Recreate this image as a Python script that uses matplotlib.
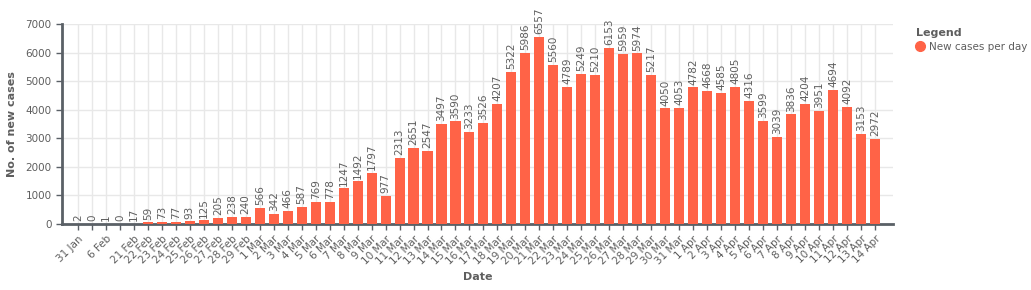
import matplotlib
matplotlib.use("Agg")
import matplotlib.pyplot as plt
from matplotlib.lines import Line2D

dates = ["31 Jan", "", "6 Feb", "", "21 Feb", "22 Feb", "23 Feb", "24 Feb", "25 Feb",
         "26 Feb", "27 Feb", "28 Feb", "29 Feb", "1 Mar", "2 Mar", "3 Mar", "4 Mar",
         "5 Mar", "6 Mar", "7 Mar", "8 Mar", "9 Mar", "10 Mar", "11 Mar", "12 Mar",
         "13 Mar", "14 Mar", "15 Mar", "16 Mar", "17 Mar", "18 Mar", "19 Mar", "20 Mar",
         "21 Mar", "22 Mar", "23 Mar", "24 Mar", "25 Mar", "26 Mar", "27 Mar", "28 Mar",
         "29 Mar", "30 Mar", "31 Mar", "1 Apr", "2 Apr", "3 Apr", "4 Apr", "5 Apr",
         "6 Apr", "7 Apr", "8 Apr", "9 Apr", "10 Apr", "11 Apr", "12 Apr", "13 Apr", "14 Apr"]
new_cases = [2, 0, 1, 0, 17, 59, 73, 77, 93, 125, 205, 238, 240, 566, 342, 466, 587,
             769, 778, 1247, 1492, 1797, 977, 2313, 2651, 2547, 3497, 3590, 3233, 3526,
             4207, 5322, 5986, 6557, 5560, 4789, 5249, 5210, 6153, 5959, 5974, 5217,
             4050, 4053, 4782, 4668, 4585, 4805, 4316, 3599, 3039, 3836, 4204, 3951,
             4694, 4092, 3153, 2972]
y_ticks = [0, 1000, 2000, 3000, 4000, 5000, 6000, 7000]

plt.rcParams['font.family'] = ['DejaVu Sans']
bar_color = "#FF6347"
text_color = "#5e5e5e"
axis_color = "#5a6066"

fig = plt.figure(figsize=(10.31, 2.90), dpi=100)
ax = fig.add_axes([62/1031, 1-224/290, (893-62)/1031, 200/290])

x = list(range(len(new_cases)))
bars = ax.bar(x, new_cases, width=0.72, color=bar_color, zorder=3)
for xi, v in zip(x, new_cases):
    ax.annotate(str(v), (xi, v), xytext=(0, 2), textcoords="offset points",
                rotation=90, ha="center", va="bottom", fontsize=7.5,
                color=text_color, zorder=4)

ax.set_xlim(-1.14, 58.29)
ax.set_ylim(0, 7000)
ax.set_yticks(y_ticks)
ax.set_yticklabels([str(t) for t in y_ticks], fontsize=7.5, color=text_color)
ax.set_xticks(x)
ax.set_xticklabels(dates, rotation=45, ha="right", rotation_mode="anchor",
                   fontsize=7.5, color=text_color)

ax.grid(True, color="#e8e8e8", linewidth=1, zorder=0)
ax.set_axisbelow(True)
for s in ["top", "right"]:
    ax.spines[s].set_visible(False)
for s in ["left", "bottom"]:
    ax.spines[s].set_color(axis_color)
    ax.spines[s].set_linewidth(2)
ax.tick_params(axis="both", colors=axis_color, labelcolor=text_color, length=4, width=1)
ax.tick_params(axis="x", pad=3)

ax.set_ylabel("No. of new cases", fontsize=8, fontweight="bold", color=text_color, labelpad=6)
ax.set_xlabel("Date", fontsize=8, fontweight="bold", color=text_color, labelpad=4)

fig.text(916/1031, 1-33/290, "Legend", fontsize=8, fontweight="bold", color=text_color,
         va="center", ha="left")
handle = Line2D([0], [0], marker="o", linestyle="", markersize=7,
                markerfacecolor=bar_color, markeredgecolor=bar_color)
fig.legend([handle], ["New cases per day"], loc="center left",
           bbox_to_anchor=(910/1031, 1-47/290), frameon=False, fontsize=7.5,
           handletextpad=0.3, borderpad=0, handlelength=1.0, labelcolor=text_color)

fig.savefig("out.png", dpi=100)
